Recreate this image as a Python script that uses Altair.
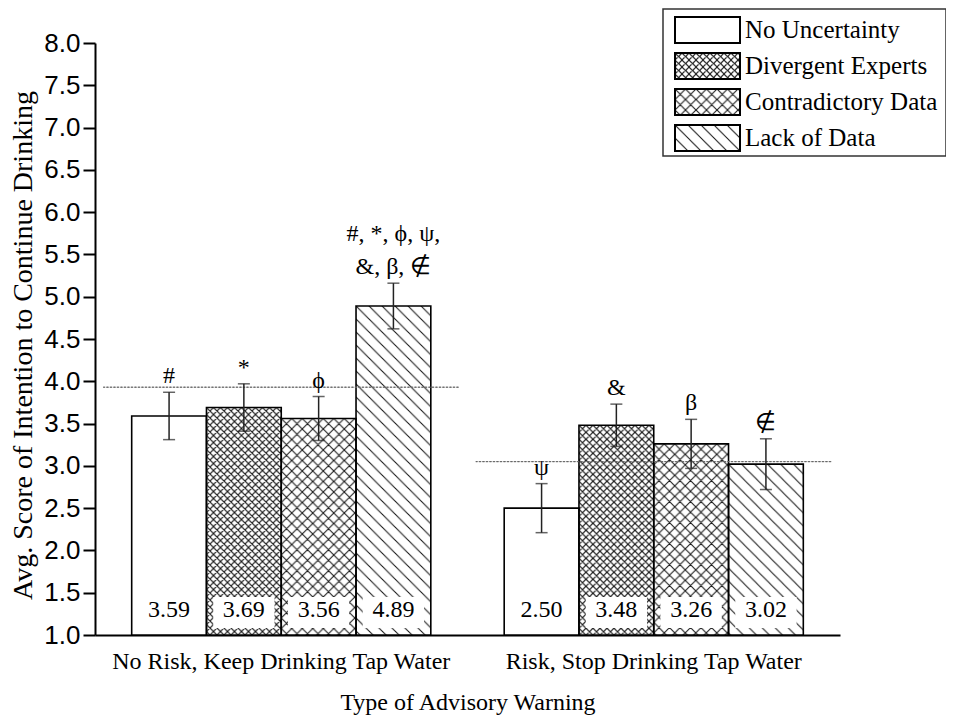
import base64
import altair as alt
import pandas as pd

# ---------------- data ----------------
groups = ["No Risk, Keep Drinking Tap Water", "Risk, Stop Drinking Tap Water"]
cats = ["No Uncertainty", "Divergent Experts", "Contradictory Data", "Lack of Data"]

means_g1 = [3.59, 3.69, 3.56, 4.89]
means_g2 = [2.50, 3.48, 3.26, 3.02]
err_g1 = [0.28, 0.28, 0.26, 0.27]
err_g2 = [0.29, 0.25, 0.29, 0.30]
labels_g1 = ["3.59", "3.69", "3.56", "4.89"]
labels_g2 = ["2.50", "3.48", "3.26", "3.02"]
# symbol shown just above each error bar (lower line) and an extra upper line
sym_g1 = ["#", "*", "\u03d5", "&, \u03b2, \u2209"]
sym_g2 = ["\u03c8", "&", "\u03b2", "\u2209"]
sym_top_g1 = ["", "", "", "#, *, \u03d5, \u03c8,"]
sym_top_g2 = ["", "", "", ""]
group_means = [3.93, 3.05]
y_ticks = [1.0, 1.5, 2.0, 2.5, 3.0, 3.5, 4.0, 4.5, 5.0, 5.5, 6.0, 6.5, 7.0, 7.5, 8.0]

SERIF = "Liberation Serif, Times New Roman, serif"
SANS = "Liberation Sans, Arial, sans-serif"


def svg_uri(svg):
    return "data:image/svg+xml;base64," + base64.b64encode(svg.encode()).decode()


# ---------------- hatch textures (SVG images, drawn unscaled) ----------------
def hatch_uri(period, dirs, width=1.1):
    P = period
    d = ""
    if "back" in dirs:  # "\" lines
        d += f"M-1,-1L{P+1},{P+1}M{P-1},-1L{P+1},1M-1,{P-1}L1,{P+1}"
    if "fwd" in dirs:  # "/" lines
        d += f"M-1,{P+1}L{P+1},-1M-1,1L1,-1M{P-1},{P+1}L{P+1},{P-1}"
    return svg_uri(
        '<svg xmlns="http://www.w3.org/2000/svg" width="100%" height="100%">'
        f'<defs><pattern id="p" x="0" y="0" width="{P}" height="{P}" patternUnits="userSpaceOnUse">'
        f'<path d="{d}" stroke="#1a1a1a" stroke-width="{width}" fill="none"/></pattern></defs>'
        '<rect x="0" y="0" width="100%" height="100%" fill="url(#p)"/></svg>'
    )


# white box (inset from the bar sides) behind the value labels
BOX_URI = svg_uri(
    '<svg xmlns="http://www.w3.org/2000/svg" width="100%" height="100%">'
    '<rect x="9%" y="0" width="82%" height="100%" fill="white"/></svg>'
)

pattern_of = {
    "No Uncertainty": "",
    "Divergent Experts": hatch_uri(7.0, ["back", "fwd"], 1.1),
    "Contradictory Data": hatch_uri(10.5, ["back", "fwd"], 1.1),
    "Lack of Data": hatch_uri(13.0, ["back"], 1.1),
}

rows = []
for g, means, errs, labs, syms, tops in [
    (groups[0], means_g1, err_g1, labels_g1, sym_g1, sym_top_g1),
    (groups[1], means_g2, err_g2, labels_g2, sym_g2, sym_top_g2),
]:
    for c, m, e, l, s, t in zip(cats, means, errs, labs, syms, tops):
        rows.append(
            dict(group=g, cat=c, value=m, lower=m - e, upper=m + e,
                 label=l, sym=s, sym_top=t, url=pattern_of[c], box=BOX_URI, base=1.0)
        )
df = pd.DataFrame(rows)
mean_df = pd.DataFrame({"group": groups, "mean": group_means})
legend_df = pd.DataFrame({"cat": cats, "url": [pattern_of[c] for c in cats]})

# ---------------- encodings ----------------
x_enc = alt.X(
    "group:N",
    sort=groups,
    scale=alt.Scale(paddingInner=0.197, paddingOuter=0.0985),
    axis=alt.Axis(
        title="Type of Advisory Warning",
        labelAngle=0,
        ticks=False,
        tickSize=0,
        labelPadding=26,
        labelBaseline="middle",
        labelFont=SERIF,
        labelFontSize=24,
        labelColor="black",
        labelLimit=500,
        domainColor="black",
        domainWidth=2,
        titleFont=SERIF,
        titleFontSize=24,
        titleFontWeight="normal",
        titleColor="black",
        titleY=67,
        titleBaseline="middle",
    ),
)
xo_enc = alt.XOffset("cat:N", sort=cats, scale=alt.Scale(paddingInner=0, paddingOuter=0))
y_scale = alt.Scale(domain=[1, 8], zero=False, nice=False)
y_enc = alt.Y(
    "value:Q",
    scale=y_scale,
    axis=alt.Axis(
        title="Avg. Score of Intention to Continue Drinking",
        values=y_ticks,
        format=".1f",
        grid=False,
        tickSize=12,
        tickWidth=2,
        tickColor="black",
        domainColor="black",
        domainWidth=2,
        labelFont=SANS,
        labelFontSize=26,
        labelColor="black",
        labelPadding=3,
        titleFont=SERIF,
        titleFontSize=28,
        titleFontWeight="normal",
        titleColor="black",
        titleX=-72,
        titleY=302,
        titleBaseline="middle",
        titleAngle=-90,
    ),
)

base = alt.Chart(df)

bar_fill = base.mark_bar(fill="white", strokeWidth=0).encode(
    x=x_enc, xOffset=xo_enc, y=y_enc, y2="base:Q"
)
bar_pattern = base.transform_filter("datum.url != ''").mark_image(aspect=False).encode(
    x=x_enc, xOffset=xo_enc, y=alt.Y("value:Q", scale=y_scale), y2="base:Q", url="url:N"
)
label_box = base.mark_image(aspect=False).encode(
    x=x_enc, xOffset=xo_enc, y=alt.Y(datum=1.45, scale=y_scale), y2=alt.Y2(datum=1.08),
    url="box:N"
)
bar_outline = base.mark_bar(fill="white", fillOpacity=0, stroke="black", strokeWidth=1.6).encode(
    x=x_enc, xOffset=xo_enc, y=alt.Y("value:Q", scale=y_scale), y2="base:Q"
)
value_text = base.mark_text(font=SERIF, fontSize=24, color="black", baseline="middle").encode(
    x=x_enc, xOffset=xo_enc, y=alt.Y(datum=1.30, scale=y_scale), text="label:N"
)
mean_lines = alt.Chart(mean_df).mark_bar(
    width=alt.RelativeBandSize(1.19), fill="white", fillOpacity=0,
    stroke="#666666", strokeWidth=1, strokeDash=[2, 1.5]
).encode(
    x=x_enc, y=alt.Y("mean:Q", scale=y_scale), y2="mean:Q"
)
err_rule = base.mark_rule(color="#222222", strokeWidth=1.5).encode(
    x=x_enc, xOffset=xo_enc, y=alt.Y("lower:Q", scale=y_scale), y2="upper:Q"
)
err_cap_hi = base.mark_tick(color="#222222", size=12, thickness=1.5, orient="horizontal").encode(
    x=x_enc, xOffset=xo_enc, y=alt.Y("upper:Q", scale=y_scale)
)
err_cap_lo = base.mark_tick(color="#222222", size=12, thickness=1.5, orient="horizontal").encode(
    x=x_enc, xOffset=xo_enc, y=alt.Y("lower:Q", scale=y_scale)
)
sym_text = base.mark_text(
    font=SERIF, fontSize=24, color="black", baseline="bottom", dy=-4
).encode(
    x=x_enc, xOffset=xo_enc, y=alt.Y("upper:Q", scale=y_scale), text="sym:N"
)
sym_top_text = base.transform_filter("datum.sym_top != ''").mark_text(
    font=SERIF, fontSize=24, color="black", baseline="bottom", dy=-37
).encode(
    x=x_enc, xOffset=xo_enc, y=alt.Y("upper:Q", scale=y_scale), text="sym_top:N"
)

main = alt.layer(
    bar_fill, bar_pattern, label_box, bar_outline, value_text,
    mean_lines, err_rule, err_cap_hi, err_cap_lo, sym_text, sym_top_text
)

# ---------------- legend (drawn by hand, top right) ----------------
leg_y = alt.Y(
    "cat:N", sort=cats, axis=None,
    scale=alt.Scale(range=[-26, 108], paddingInner=0.278, paddingOuter=0),
)
leg_box = alt.Chart(alt.Data(values=[{"a": 1}])).mark_rect(
    fill="white", stroke="#333333", strokeWidth=1.5
).encode(x=alt.value(568), x2=alt.value(851), y=alt.value(-34), y2=alt.value(113))
leg_white = alt.Chart(legend_df).mark_rect(fill="white").encode(
    x=alt.value(580), x2=alt.value(645), y=leg_y
)
leg_img = alt.Chart(legend_df).transform_filter("datum.url != ''").mark_image(aspect=False).encode(
    x=alt.value(580), x2=alt.value(645), y=leg_y, url="url:N"
)
leg_outline = alt.Chart(legend_df).mark_rect(
    fill="white", fillOpacity=0, stroke="black", strokeWidth=2
).encode(x=alt.value(580), x2=alt.value(645), y=leg_y)
leg_text = alt.Chart(legend_df).mark_text(
    font=SERIF, fontSize=25, color="black", align="left", baseline="middle"
).encode(x=alt.value(650), y=leg_y, text="cat:N")

legend = alt.layer(leg_white, leg_img, leg_outline, leg_text)

chart = (
    alt.layer(main, leg_box, legend)
    .resolve_scale(y="independent")
    .properties(
        width=745,
        height=592,
        padding={"left": 87, "top": 35, "right": 106, "bottom": 83},
        autosize=alt.AutoSizeParams(type="none"),
        background="white",
    )
    .configure_view(stroke=None)
)

chart.save("out.html", embed_options={"renderer": "svg", "actions": False})
